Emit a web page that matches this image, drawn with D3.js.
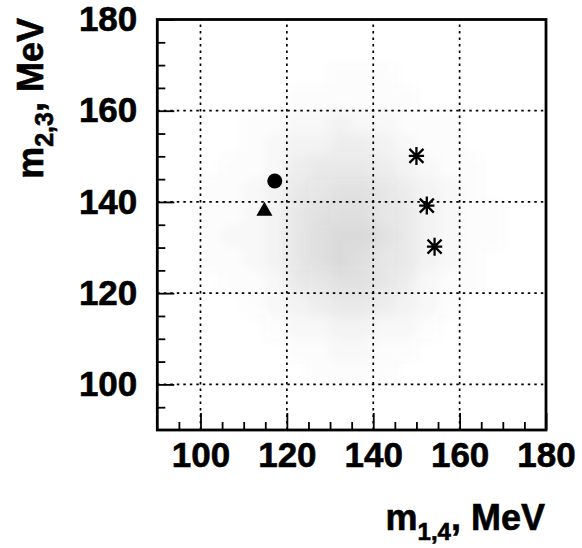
<!DOCTYPE html>
<html>
<head>
<meta charset="utf-8">
<script src="https://cdn.jsdelivr.net/npm/d3@7"></script>
<style>
  html, body { margin: 0; padding: 0; background: #fff; }
  svg { display: block; }
  text { font-family: "Liberation Sans", Arial, Helvetica, sans-serif; font-weight: bold; fill: #000; }
</style>
</head>
<body>
<svg id="chart" width="582" height="548"></svg>
<script>
// ---------------- data ----------------
const xDomain = [90, 180];
const yDomain = [90, 180];
const xMajorTicks = [100, 120, 140, 160, 180];
const yMajorTicks = [100, 120, 140, 160, 180];
const xMinorTicks = [95, 105, 110, 115, 125, 130, 135, 145, 150, 155, 165, 170, 175];
const yMinorTicks = [95, 105, 110, 115, 125, 130, 135, 145, 150, 155, 165, 170, 175];
const gridX = [100, 120, 140, 160];
const gridY = [100, 120, 140, 160];

// Density of the scatter cloud, estimated per 5x5 MeV cell (0 = empty, 9 = densest)
// columns: lower x edge of each cell; rows: lower y edge of each cell (top row first)
const cellX = [90, 95, 100, 105, 110, 115, 120, 125, 130, 135, 140, 145, 150, 155, 160, 165, 170, 175];
const cellY = [175, 170, 165, 160, 155, 150, 145, 140, 135, 130, 125, 120, 115, 110, 105, 100, 95, 90];
const density = [
  [0,0,0,0,0,0,0,0,0,0,0,0,0,0,0,0,0,0],
  [0,0,0,0,0,0,0,0,0,0,0,0,0,0,0,0,0,0],
  [0,0,0,0,0,0,0,0,1,1,1,0,0,0,0,0,0,0],
  [0,0,0,0,0,0,1,1,1,1,1,1,0,0,0,0,0,0],
  [0,0,0,0,1,1,2,2,3,2,2,1,1,1,0,0,0,0],
  [0,0,0,0,1,2,3,3,4,4,3,2,1,1,0,0,0,0],
  [0,0,0,1,1,2,4,5,5,5,4,3,2,1,1,0,0,0],
  [0,0,1,1,2,3,5,6,7,7,6,4,3,2,1,0,0,0],
  [0,0,1,1,2,3,6,7,8,8,6,5,3,2,1,1,0,0],
  [0,0,1,2,2,3,6,8,9,9,7,5,3,2,1,1,0,0],
  [0,0,1,1,2,3,6,8,9,8,6,5,3,2,1,0,0,0],
  [0,0,0,1,1,2,5,6,7,7,6,4,2,1,1,0,0,0],
  [0,0,0,0,1,2,3,4,5,5,4,3,2,1,0,0,0,0],
  [0,0,0,0,0,1,2,2,3,3,2,2,1,0,0,0,0,0],
  [0,0,0,0,0,0,1,1,2,2,1,1,0,0,0,0,0,0],
  [0,0,0,0,0,0,0,1,1,1,1,0,0,0,0,0,0,0],
  [0,0,0,0,0,0,0,0,0,0,0,0,0,0,0,0,0,0],
  [0,0,0,0,0,0,0,0,0,0,0,0,0,0,0,0,0,0]
];

const circlePoints   = [{ x: 117.2, y: 144.6 }];
const trianglePoints = [{ x: 114.8, y: 138.0 }];
const starPoints     = [{ x: 150.0, y: 150.1 }, { x: 152.4, y: 139.2 }, { x: 154.2, y: 130.2 }];

const xTitle = { main: "m", sub: "1,4", rest: ", MeV" };
const yTitle = { main: "m", sub: "2,3", rest: ", MeV" };

// ---------------- layout ----------------
const plot = { left: 157.3, right: 546, top: 19.5, bottom: 430 };

const svg = d3.select("#chart");
const x = d3.scaleLinear().domain(xDomain).range([plot.left, plot.right]);
const y = d3.scaleLinear().domain(yDomain).range([plot.bottom, plot.top]);

const defs = svg.append("defs");
defs.append("clipPath").attr("id", "plotClip")
  .append("rect")
  .attr("x", plot.left).attr("y", plot.top)
  .attr("width", plot.right - plot.left).attr("height", plot.bottom - plot.top);
const blur = defs.append("filter").attr("id", "soft")
  .attr("x", "-20%").attr("y", "-20%").attr("width", "140%").attr("height", "140%");
blur.append("feGaussianBlur").attr("stdDeviation", 6);

// ---------------- density cloud ----------------
const cells = [];
density.forEach((row, ri) => row.forEach((v, ci) => {
  if (v > 0) cells.push({ x0: cellX[ci], y0: cellY[ri], v });
}));
svg.append("g").attr("clip-path", "url(#plotClip)")
  .append("g").attr("filter", "url(#soft)")
  .selectAll("rect").data(cells).join("rect")
  .attr("x", d => x(d.x0))
  .attr("y", d => y(d.y0 + 5))
  .attr("width", d => x(d.x0 + 5) - x(d.x0))
  .attr("height", d => y(d.y0) - y(d.y0 + 5))
  .attr("fill", "#444")
  .attr("fill-opacity", d => d.v / 9 * 0.2);

// ---------------- grid ----------------
const grid = svg.append("g").attr("stroke", "#000").attr("stroke-width", 1.7)
  .attr("stroke-dasharray", "2.5,4");
grid.selectAll("line.gx").data(gridX).join("line").attr("class", "gx")
  .attr("x1", d => x(d)).attr("x2", d => x(d))
  .attr("y1", plot.bottom).attr("y2", plot.top);
grid.selectAll("line.gy").data(gridY).join("line").attr("class", "gy")
  .attr("y1", d => y(d)).attr("y2", d => y(d))
  .attr("x1", plot.left).attr("x2", plot.right);

// ---------------- axes ----------------
function styleAxis(g) {
  g.select(".domain").remove();
  g.selectAll(".tick line").attr("stroke", "#000").attr("stroke-width", 1.8);
  g.selectAll(".tick text")
    .style("font-family", '"Liberation Sans", Arial, sans-serif')
    .style("font-weight", "bold")
    .style("font-size", "35px")
    .attr("fill", "#000")
    .attr("stroke", "#000").attr("stroke-width", 0.6);
}
svg.append("g").attr("transform", `translate(0,${plot.bottom})`)
  .call(d3.axisBottom(x).tickValues(xMinorTicks).tickSize(-8).tickFormat(""))
  .call(styleAxis);
svg.append("g").attr("transform", `translate(0,${plot.bottom})`)
  .call(d3.axisBottom(x).tickValues(xMajorTicks).tickSize(-17).tickPadding(12).tickFormat(d3.format("d")))
  .call(styleAxis);
svg.append("g").attr("transform", `translate(${plot.left},0)`)
  .call(d3.axisLeft(y).tickValues(yMinorTicks).tickSize(-8).tickFormat(""))
  .call(styleAxis);
svg.append("g").attr("transform", `translate(${plot.left},0)`)
  .call(d3.axisLeft(y).tickValues(yMajorTicks).tickSize(-17).tickPadding(20).tickFormat(d3.format("d")))
  .call(styleAxis);

// frame
svg.append("rect")
  .attr("x", plot.left).attr("y", plot.top)
  .attr("width", plot.right - plot.left).attr("height", plot.bottom - plot.top)
  .attr("fill", "none").attr("stroke", "#000").attr("stroke-width", 2.8);

// ---------------- markers ----------------
svg.append("g").selectAll("circle").data(circlePoints).join("circle")
  .attr("cx", d => x(d.x)).attr("cy", d => y(d.y)).attr("r", 7.5).attr("fill", "#000");

svg.append("g").selectAll("path").data(trianglePoints).join("path")
  .attr("transform", d => `translate(${x(d.x)},${y(d.y)})`)
  .attr("d", d3.symbol().type(d3.symbolTriangle).size(112))
  .attr("fill", "#000");

const starSymbol = {
  draw(ctx, size) {
    const r = Math.sqrt(size) / 2;
    const h = r * 0.85;
    const q = r * 0.78;
    ctx.moveTo(0, -r); ctx.lineTo(0, r);
    ctx.moveTo(-h, 0); ctx.lineTo(h, 0);
    ctx.moveTo(-q, -q); ctx.lineTo(q, q);
    ctx.moveTo(-q, q); ctx.lineTo(q, -q);
  }
};
svg.append("g").selectAll("path").data(starPoints).join("path")
  .attr("transform", d => `translate(${x(d.x)},${y(d.y)})`)
  .attr("d", d3.symbol().type(starSymbol).size(324))
  .attr("fill", "none").attr("stroke", "#000").attr("stroke-width", 2.3);

// ---------------- titles ----------------
const xt = svg.append("text")
  .attr("x", 545).attr("y", 530)
  .attr("text-anchor", "end")
  .attr("stroke", "#000").attr("stroke-width", 0.6)
  .style("font-size", "36px");
xt.append("tspan").text(xTitle.main);
xt.append("tspan").attr("dy", 10).style("font-size", "24px").text(xTitle.sub);
xt.append("tspan").attr("dy", -10).text(xTitle.rest);

const yt = svg.append("text")
  .attr("transform", "translate(43,18) rotate(-90)")
  .attr("text-anchor", "end")
  .attr("stroke", "#000").attr("stroke-width", 0.6)
  .style("font-size", "36px");
yt.append("tspan").text(yTitle.main);
yt.append("tspan").attr("dy", 10).style("font-size", "25px").text(yTitle.sub);
yt.append("tspan").attr("dy", -10).text(yTitle.rest);
</script>
</body>
</html>
